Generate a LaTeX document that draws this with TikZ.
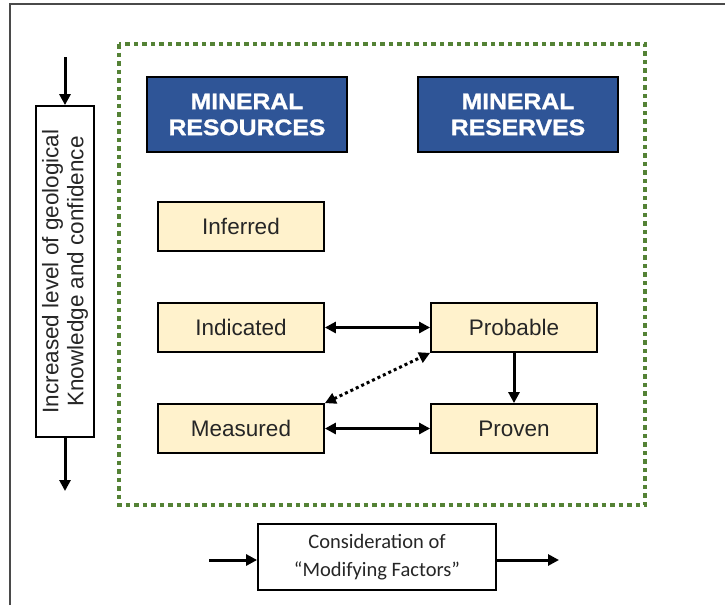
\documentclass[tikz,border=0pt]{standalone}
\usepackage{fontspec}
\setmainfont{Liberation Sans}
\newfontfamily\calibrifont{Carlito}
\newfontfamily\headfont{Liberation Sans Bold}[FakeBold=1.2,FakeStretch=1.1]
\usetikzlibrary{arrows.meta}
\definecolor{framegrey}{HTML}{4A4A4A}
\definecolor{dotgreen}{HTML}{548235}
\definecolor{headblue}{HTML}{2F5597}
\definecolor{classfill}{HTML}{FFF2CC}
\definecolor{classtext}{HTML}{262626}
\begin{document}
\begin{tikzpicture}[x=1pt,y=-1pt,
  header/.style={draw=black,line width=2pt,fill=headblue,text=white,
    minimum width=200pt,minimum height=75pt,align=center,inner sep=0pt,
    font=\headfont\fontsize{22.5}{26}\selectfont},
  classbox/.style={draw=black,line width=1.8pt,fill=classfill,text=classtext,
    minimum width=166pt,minimum height=49pt,inner sep=0pt,
    font=\fontsize{22.5}{26}\selectfont},
  sidebox/.style={draw=black,line width=1.8pt,fill=white,text=classtext,
    rotate=90,minimum width=331pt,minimum height=58pt,align=center,inner sep=0pt,
    font=\fontsize{22.5}{25}\selectfont},
  factorbox/.style={draw=black,line width=1.8pt,fill=white,text=classtext,
    minimum width=238pt,minimum height=66pt,align=center,inner sep=0pt,
    font=\calibrifont\fontsize{20.5}{28}\selectfont},
  link/.style={line width=3pt,-{Triangle[length=11pt,width=11pt]}},
  twoway/.style={line width=3pt,{Triangle[length=11pt,width=11pt]}-{Triangle[length=11pt,width=11pt]}},
  maybelink/.style={line width=3pt,dash pattern=on 3pt off 3pt,
    {Triangle[length=11pt,width=11pt]}-{Triangle[length=11pt,width=11pt]}}
]
\useasboundingbox (0,0) rectangle (725,605);
\fill[white] (0,0) rectangle (725,605);

% outer frame (top and left edges)
\draw[framegrey,line width=2pt] (10,605) -- (10,4) -- (725,4);

% dotted boundary around the classification
\draw[dotgreen,line width=4.5pt,dash pattern=on 4.5pt off 4pt] (119,44) rectangle (645,505);

% column headers
\node[header] (res) at (247,114.5) {MINERAL\\RESOURCES};
\node[header] (rsv) at (518,114.5) {MINERAL\\RESERVES};

% resource and reserve categories
\node[classbox] (inf) at (241,226.5) {Inferred};
\node[classbox] (ind) at (241,327.5) {Indicated};
\node[classbox] (mea) at (241,428.5) {Measured};
\node[classbox] (pro) at (514,327.5) {Probable};
\node[classbox] (prv) at (514,428.5) {Proven};

\draw[twoway] (ind.east) -- (pro.west);
\draw[twoway] (mea.east) -- (prv.west);
\draw[link] (pro.south) -- (prv.north);
\draw[maybelink] (mea.north east) -- (pro.south west);

% geological confidence axis
\node[sidebox] (conf) at (65,271.5) {Increased level of geological\\Knowledge and confidence};
\coordinate (confin) at (65,57);
\coordinate (confout) at (65,491);
\draw[link] (confin) -- (conf.east);
\draw[link] (conf.west) -- (confout);

% modifying factors
\node[factorbox] (mod) at (377,557) {Consideration of\\“Modifying Factors”};
\coordinate (modin) at (209,560);
\coordinate (modout) at (559,560);
\draw[link] (modin) -- (mod.west |- modin);
\draw[link] (mod.east |- modout) -- (modout);
\end{tikzpicture}
\end{document}
